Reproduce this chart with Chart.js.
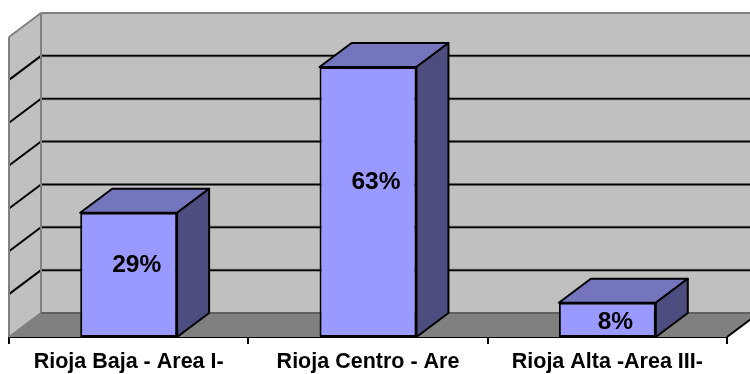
<!DOCTYPE html>
<html>
<head>
<meta charset="utf-8">
<style>
  html, body { margin: 0; padding: 0; background: #fff; }
  canvas { display: block; }
</style>
<script src="https://cdn.jsdelivr.net/npm/chart.js@4/dist/chart.umd.min.js"></script>
</head>
<body>
<canvas id="myChart" width="750" height="374"></canvas>
<script>
const categories = ['Rioja Baja - Area I-', 'Rioja Centro - Are', 'Rioja Alta -Area III-'];
const values = [29, 63, 8];
const barLabels = ['29%', '63%', '8%'];
const yTicks = [0, 10, 20, 30, 40, 50, 60, 70];

// depth of the fake 3d box, Chart.js has no 3d so it is added by hand
const depthX = 32;
const depthY = 24;

function fillShape(ctx, pts, fill) {
    ctx.beginPath();
    ctx.moveTo(pts[0][0], pts[0][1]);
    for (let i = 1; i < pts.length; i++) ctx.lineTo(pts[i][0], pts[i][1]);
    ctx.closePath();
    ctx.fillStyle = fill;
    ctx.fill();
}

function strokeLine(ctx, x1, y1, x2, y2, color, width) {
    ctx.beginPath();
    ctx.moveTo(x1, y1);
    ctx.lineTo(x2, y2);
    ctx.strokeStyle = color;
    ctx.lineWidth = width;
    ctx.stroke();
}

const box3d = {
    id: 'box3d',
    beforeDatasetsDraw(chart) {
        const ctx = chart.ctx;
        const left = chart.scales.x.left;
        const right = chart.scales.x.right;
        const yScale = chart.scales.y;
        const base = yScale.getPixelForValue(0);
        const top = yScale.getPixelForValue(yTicks[yTicks.length - 1]);

        ctx.save();
        // walls and floor
        fillShape(ctx, [[left + depthX, top - depthY], [right + depthX, top - depthY], [right + depthX, base - depthY], [left + depthX, base - depthY]], '#c0c0c0');
        fillShape(ctx, [[left, top], [left + depthX, top - depthY], [left + depthX, base - depthY], [left, base]], '#c0c0c0');
        fillShape(ctx, [[left, base], [left + depthX, base - depthY], [right + depthX, base - depthY], [right, base]], '#808080');

        // gridlines on the back and side wall
        yTicks.forEach(function (v) {
            if (v === 0 || v === yTicks[yTicks.length - 1]) return;
            const y = yScale.getPixelForValue(v);
            strokeLine(ctx, left, y, left + depthX, y - depthY, '#000', 2);
            strokeLine(ctx, left + depthX, y - depthY, right + depthX, y - depthY, '#808080', 3);
            strokeLine(ctx, left + depthX, y - depthY, right + depthX, y - depthY, '#000', 1.5);
        });

        // wall edges
        strokeLine(ctx, left, base, left, top, '#808080', 2);
        strokeLine(ctx, left, top, left + depthX, top - depthY, '#808080', 2);
        strokeLine(ctx, left + depthX, top - depthY, right + depthX, top - depthY, '#808080', 2);
        strokeLine(ctx, left + depthX, top - depthY, left + depthX, base - depthY, '#808080', 2);
        strokeLine(ctx, left, base, left + depthX, base - depthY, '#808080', 2);
        strokeLine(ctx, left + depthX, base - depthY, right + depthX, base - depthY, '#606060', 2);
        strokeLine(ctx, right, base, right + depthX, base - depthY, '#000', 2);

        // top and side of every bar
        chart.getDatasetMeta(0).data.forEach(function (bar) {
            const l = bar.x - bar.width / 2;
            const r = bar.x + bar.width / 2;
            const t = bar.y;
            const topFace = [[l, t], [l + depthX, t - depthY], [r + depthX, t - depthY], [r, t]];
            const sideFace = [[r, t], [r + depthX, t - depthY], [r + depthX, base - depthY], [r, base]];
            [[topFace, '#7575bd'], [sideFace, '#4d4d80']].forEach(function (face) {
                fillShape(ctx, face[0], face[1]);
                ctx.strokeStyle = '#000';
                ctx.lineWidth = 2;
                ctx.lineJoin = 'round';
                ctx.stroke();
            });
        });
        ctx.restore();
    },
    afterDatasetsDraw(chart) {
        const ctx = chart.ctx;
        const base = chart.scales.y.getPixelForValue(0);
        ctx.save();
        ctx.font = 'bold 24.5px "Liberation Sans", Arial, sans-serif';
        ctx.fillStyle = '#000';
        ctx.textAlign = 'center';
        ctx.textBaseline = 'middle';
        chart.getDatasetMeta(0).data.forEach(function (bar, i) {
            const h = base - bar.y;
            // short bars keep the label lower down
            const up = h < 50 ? h * 0.42 : h * 0.575;
            ctx.fillText(barLabels[i], bar.x + 8, base - up);
        });
        ctx.restore();
    }
};

const ctx = document.getElementById('myChart').getContext('2d');

const chart = new Chart(ctx, {
    type: 'bar',
    plugins: [box3d],
    data: {
        labels: categories,
        datasets: [{
            data: values,
            backgroundColor: '#9999ff',
            borderColor: '#000',
            borderWidth: 2,
            borderSkipped: false,
            barPercentage: 0.405,
            categoryPercentage: 1
        }]
    },
    options: {
        responsive: false,
        animation: false,
        layout: { padding: { left: 9, right: 23, top: 37, bottom: 0 } },
        plugins: { legend: { display: false }, tooltip: { enabled: false } },
        scales: {
            x: {
                afterFit: function (axis) { axis.height = 37; },
                grid: { offset: true, drawOnChartArea: false, color: '#000', lineWidth: 2, tickLength: 7 },
                border: { color: '#000', width: 2 },
                ticks: {
                    color: '#000',
                    maxRotation: 0,
                    autoSkip: false,
                    padding: 5,
                    font: { family: '"Liberation Sans", Arial, sans-serif', size: 21.5, weight: 'bold' }
                }
            },
            y: {
                display: false,
                min: 0,
                max: 70,
                afterBuildTicks: function (axis) {
                    axis.ticks = yTicks.map(function (v) { return { value: v }; });
                }
            }
        }
    }
});
</script>
</body>
</html>
